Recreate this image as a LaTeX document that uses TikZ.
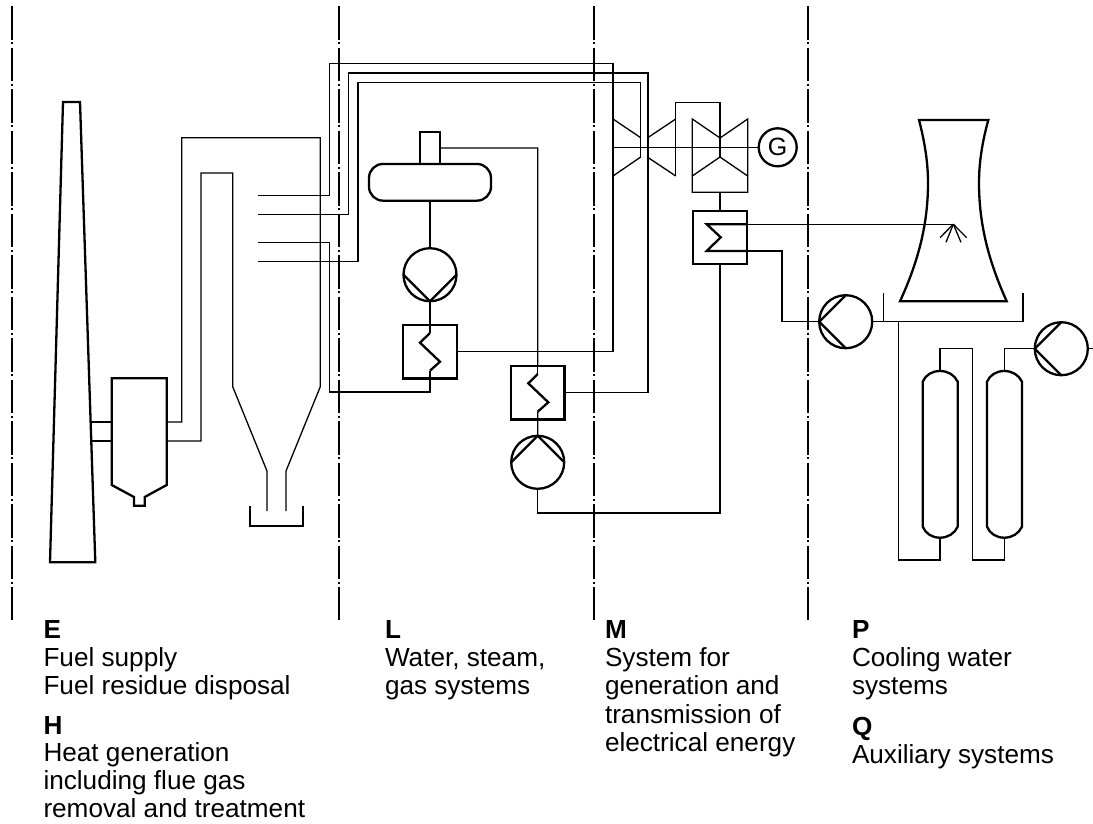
\documentclass[tikz,border=0pt]{standalone}
\usepackage{fontspec}
\setmainfont{Liberation Sans}
\tikzset{
  thinline/.style={line width=1.3pt,line join=miter},
  thickline/.style={line width=2.3pt,line join=miter},
  axisline/.style={line width=1.3pt,dash pattern=on 33.5pt off 2.5pt on 2pt off 3.5pt},
  pump/.style={circle,draw,line width=2.3pt,minimum size=53pt,inner sep=0pt,outer sep=0pt},
  exch/.style={rectangle,draw,line width=2.3pt,minimum width=53.5pt,minimum height=53.5pt,inner sep=0pt,outer sep=0pt},
  gen/.style={circle,draw,line width=2.3pt,minimum size=38pt,inner sep=0pt,outer sep=0pt,font=\fontsize{25}{25}\selectfont},
  caption/.style={anchor=north west,inner sep=0pt,outer sep=0pt,align=left,font=\fontsize{26.15}{28.4}\selectfont},
  captiontight/.style={caption,font=\fontsize{26.15}{27.9}\selectfont},
}
\newcommand{\firstline}{\rule{0pt}{20pt}}
\begin{document}
\begin{tikzpicture}[x=1pt,y=-1pt]
\useasboundingbox (0,0) rectangle (1093,823);
% section lines
\foreach \nm/\xx in {a/12,b/339,c/594,d/808}{
  \coordinate (sec\nm t) at (\xx,6);
  \coordinate (sec\nm b) at (\xx,620);
  \draw[axisline] (sec\nm t) -- (sec\nm b);
}
% chimney
\coordinate (chA) at (90.6,422);
\coordinate (chB) at (91.3,441);
\draw[thickline] (63,102) -- (80,102) -- (95.3,562.3) -- (50,562.3) -- cycle;
% filter box
\coordinate (fbA) at (111.7,422);
\coordinate (fbB) at (111.7,441);
\coordinate (fbC) at (166.7,422);
\coordinate (fbD) at (166.7,441);
\draw[thickline] (111.7,378.3) -- (166.7,378.3) -- (166.7,485) -- (144.7,497) -- (144.7,505.7) -- (134,505.7) -- (134,497) -- (111.7,485) -- cycle;
\draw[thinline] (chA) -- (fbA);
\draw[thinline] (chB) -- (fbB);
% boiler gas path
\coordinate (blA) at (267,511);
\coordinate (blB) at (286,511);
\draw[thinline] (fbC) -- (181.7,422) -- (181.7,137.7) -- (320.3,137.7) -- (320.3,386.7) -- (286,471) -- (blB);
\draw[thinline] (fbD) -- (201,441) -- (201,173) -- (232.7,173) -- (232.7,386.7) -- (267,471) -- (blA);
% ash bin
\draw[thickline] (250,506) -- (250,525.7) -- (303.3,525.7) -- (303.3,506);
% drum
\node[rectangle,draw,line width=2.3pt,rounded corners=14pt,minimum width=122pt,minimum height=36.7pt,inner sep=0pt,outer sep=0pt] (drum) at (430,182.3) {};
\node[rectangle,draw,line width=2.3pt,minimum width=20pt,minimum height=32.3pt,inner sep=0pt,outer sep=0pt] (stub) at (430,147.8) {};
% pumps
\node[pump] (pA) at (430,274.7) {};
\node[pump] (pB) at (537.7,462.3) {};
\node[pump] (pC) at (845.7,321.7) {};
\node[pump] (pD) at (1061.3,348.7) {};
\draw[thickline] (pA.west) -- (pA.south) -- (pA.east);
\draw[thickline] (pB.west) -- (pB.north) -- (pB.east);
\draw[thickline] (pC.north) -- (pC.west) -- (pC.south);
\draw[thickline] (pD.north) -- (pD.west) -- (pD.south);
% heat exchangers
\node[exch] (hxA) at (430,351.7) {};
\node[exch] (hxB) at (537.8,392.7) {};
\node[exch] (cond) at (720,237.5) {};
\draw[thickline] (430,333) -- (420,342.7) -- (440,361.7) -- (430,370.7);
\draw[thickline] (537.7,374) -- (528.3,383.3) -- (548.3,402.3) -- (537.7,411.7);
\draw[thinline] (430,325) -- (430,333);
\draw[thinline] (430,370.7) -- (hxA.south);
\draw[thinline] (537.7,366) -- (537.7,374);
\draw[thinline] (537.7,411.7) -- (hxB.south);
\coordinate (cdA) at (746.7,224.2);
\coordinate (cdB) at (746.7,251);
\draw[thickline] (cdA) -- (706.7,224.2) -- (720.7,237.3) -- (706.7,251) -- (cdB);
% steam lines from boiler
\coordinate (stA) at (258,195.7);
\coordinate (stB) at (258,214.3);
\coordinate (stC) at (258,242.7);
\coordinate (stD) at (258,261.7);
\draw[thinline] (stA) -- (329.7,195.7) -- (329.7,63.5) -- (613,63.5) -- (613,351.7) -- (hxA.east);
\draw[thinline] (stB) -- (348.7,214.3) -- (348.7,73) -- (648,73) -- (648,392.7) -- (hxB.east);
\draw[thinline] (stD) -- (358,261.7) -- (358,82.5) -- (640.7,82.5) -- (640.7,157);
\draw[thinline] (stC) -- (329.7,242.7) -- (329.7,392) -- (430,392) -- (hxA.south);
% water lines
\draw[thinline] (drum.south) -- (pA.north);
\draw[thinline] (pA.south) -- (hxA.north);
\draw[thinline] (stub.east |- 0,148) -- (537.7,148) -- (hxB.north);
\draw[thinline] (pB.north) -- (hxB.south);
\draw[thinline] (pB.south) -- (537.7,513) -- (720,513) -- (cond.south);
% turbines
\node[gen] (G) at (777.7,147.3) {G};
\draw[thinline] (613,119) -- (640.7,137.7);
\draw[thinline] (613,176) -- (640.7,157);
\draw[thinline] (647.3,138) -- (675.7,119);
\draw[thinline] (647.3,157) -- (675.7,176);
\draw[thinline] (675.7,176) -- (675.7,102.3) -- (720,102.3) -- (720,157);
\draw[thinline] (720,192.3) -- (cond.north);
\draw[thinline] (692.3,119) -- (720,138) -- (747.7,119) -- (747.7,192.3) -- (692.3,192.3) -- cycle;
\draw[thinline] (692.3,176) -- (720,157) -- (747.7,176);
\draw[thinline] (613,147.3) -- (G.west);
% cooling tower
\draw[thickline] (919,120) -- (988.3,120) .. controls (982,143) and (979,163) .. (979,183) .. controls (979,225) and (989,262) .. (1006.7,301.3) -- (900,301.3) .. controls (918,262) and (928,225) .. (928,183) .. controls (928,163) and (925,143) .. (919,120) -- cycle;
\coordinate (spray) at (953.3,224.2);
\draw[thinline] (cdA) -- (spray);
\draw[thinline] (spray) -- (940,237.7);
\draw[thinline] (spray) -- (946,242.3);
\draw[thinline] (spray) -- (961,242.3);
\draw[thinline] (spray) -- (966.7,237.7);
\draw[thinline] (cdB) -- (782,251) -- (782,321.7) -- (pC.west);
\draw[thinline] (pC.east) -- (1023,321.7) -- (1023,293.3);
\draw[thinline] (883.3,321.7) -- (883.3,293.3);
% auxiliary vessels
\coordinate (vAt) at (940,371);
\coordinate (vAb) at (940,537.7);
\coordinate (vBt) at (1004.3,371);
\coordinate (vBb) at (1004.3,537.7);
\draw[thickline] (922.7,381.7) .. controls (925.5,375) and (932,371) .. (vAt) .. controls (948,371) and (954.5,375) .. (957.7,381.7) -- (957.7,526.7) .. controls (954.5,533.5) and (948,537.7) .. (vAb) .. controls (932,537.7) and (925.5,533.5) .. (922.7,526.7) -- cycle;
\draw[thickline] (987,381.7) .. controls (989.8,375) and (996.3,371) .. (vBt) .. controls (1012.3,371) and (1018.8,375) .. (1022,381.7) -- (1022,526.7) .. controls (1018.8,533.5) and (1012.3,537.7) .. (vBb) .. controls (996.3,537.7) and (989.8,533.5) .. (987,526.7) -- cycle;
\draw[thinline] (898.7,321.7) -- (898.7,560) -- (940,560) -- (vAb);
\draw[thinline] (vAt) -- (940,348.7) -- (972.3,348.7) -- (972.3,560) -- (1004.3,560) -- (vBb);
\draw[thinline] (vBt) -- (1004.3,348.7) -- (pD.west);
\coordinate (pDout) at (1093,348.7);
\draw[thinline] (pD.east) -- (pDout);
% captions
\node[caption] (capE) at (43.5,618) {\firstline\textbf{E}\\Fuel supply\\Fuel residue disposal};
\node[captiontight] (capH) at (43.5,714) {\firstline\textbf{H}\\Heat generation\\including flue gas\\removal and treatment};
\node[caption] (capL) at (385,618) {\firstline\textbf{L}\\Water, steam,\\gas systems};
\node[caption] (capM) at (605,618) {\firstline\textbf{M}\\System for\\generation and\\transmission of\\electrical energy};
\node[caption] (capP) at (852,618) {\firstline\textbf{P}\\Cooling water\\systems};
\node[caption] (capQ) at (852,715) {\firstline\textbf{Q}\\Auxiliary systems};
\end{tikzpicture}
\end{document}
